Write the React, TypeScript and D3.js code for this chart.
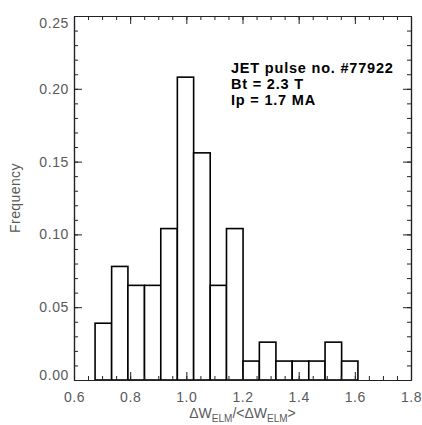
import React, { useRef, useEffect } from 'react';
import * as d3 from 'd3';

// histogram bin edges (17 edges -> 16 bins)
const binEdges = [0.675, 0.734, 0.792, 0.851, 0.909, 0.968, 1.026, 1.085, 1.143,
  1.202, 1.260, 1.319, 1.377, 1.436, 1.494, 1.553, 1.611];
const frequencies = [0.039, 0.078, 0.065, 0.065, 0.104, 0.208, 0.156, 0.065, 0.104,
  0.013, 0.026, 0.013, 0.013, 0.013, 0.026, 0.013];

const xTicks = [0.6, 0.8, 1.0, 1.2, 1.4, 1.6, 1.8];
const yTicks = [0.0, 0.05, 0.10, 0.15, 0.20, 0.25];
const infoLines = ['JET pulse no. #77922', 'Bt = 2.3 T', 'Ip = 1.7 MA'];

const W = 422;
const H = 425;
const margin = { top: 16, right: 11, bottom: 45, left: 74 };

function Histogram() {
  const ref = useRef<SVGSVGElement | null>(null);

  useEffect(() => {
    const svg = d3.select(ref.current);
    svg.selectAll('*').remove();

    const x = d3.scaleLinear().domain([0.6, 1.8]).range([margin.left, W - margin.right]);
    const y = d3.scaleLinear().domain([0, 0.25]).range([H - margin.bottom, margin.top]);
    const x0 = margin.left, x1 = W - margin.right;
    const y0 = H - margin.bottom, y1 = margin.top;

    const font = 'Liberation Sans, Arial, Helvetica, sans-serif';
    const grey = '#5a5a5a';

    // bars
    svg.append('g')
      .selectAll('rect')
      .data(frequencies)
      .join('rect')
      .attr('x', (d, i) => x(binEdges[i]))
      .attr('width', (d, i) => x(binEdges[i + 1]) - x(binEdges[i]))
      .attr('y', d => y(d))
      .attr('height', d => y(0) - y(d))
      .attr('fill', 'white')
      .attr('stroke', '#000')
      .attr('stroke-width', 1.6);

    const xMinor = d3.range(0.6, 1.8001, 0.05);
    const yMinor = d3.range(0, 0.2501, 0.01);

    const styleAxis = (g: any) => {
      g.select('.domain').attr('stroke', '#222').attr('stroke-width', 1.2);
      g.selectAll('.tick line').attr('stroke', '#222').attr('stroke-width', 1);
      g.selectAll('text')
        .attr('font-family', font)
        .attr('font-size', 14)
        .attr('fill', grey)
        .attr('letter-spacing', 0.6);
    };

    // bottom axis
    svg.append('g')
      .attr('transform', `translate(0,${y0})`)
      .call(d3.axisBottom(x).tickValues(xMinor).tickSize(-4).tickFormat(() => '').tickSizeOuter(0))
      .call(styleAxis);
    svg.append('g')
      .attr('transform', `translate(0,${y0})`)
      .call(d3.axisBottom(x).tickValues(xTicks).tickSize(-8).tickPadding(12)
        .tickFormat(d3.format('.1f')).tickSizeOuter(0))
      .call(styleAxis);

    // top axis
    svg.append('g')
      .attr('transform', `translate(0,${y1})`)
      .call(d3.axisTop(x).tickValues(xMinor).tickSize(-4).tickFormat(() => '').tickSizeOuter(0))
      .call(styleAxis);
    svg.append('g')
      .attr('transform', `translate(0,${y1})`)
      .call(d3.axisTop(x).tickValues(xTicks).tickSize(-8).tickFormat(() => '').tickSizeOuter(0))
      .call(styleAxis);

    // left axis
    svg.append('g')
      .attr('transform', `translate(${x0},0)`)
      .call(d3.axisLeft(y).tickValues(yMinor).tickSize(-4).tickFormat(() => '').tickSizeOuter(0))
      .call(styleAxis);
    const left = svg.append('g')
      .attr('transform', `translate(${x0},0)`)
      .call(d3.axisLeft(y).tickValues(yTicks).tickSize(-8).tickPadding(5)
        .tickFormat(d3.format('.2f')).tickSizeOuter(0))
      .call(styleAxis);
    // end labels are pulled inside the frame
    left.selectAll('.tick text')
      .attr('dy', (d: any) => (d === 0 ? '-0.05em' : d === 0.25 ? '0.82em' : '0.32em'));

    // right axis
    svg.append('g')
      .attr('transform', `translate(${x1},0)`)
      .call(d3.axisRight(y).tickValues(yMinor).tickSize(-4).tickFormat(() => '').tickSizeOuter(0))
      .call(styleAxis);
    svg.append('g')
      .attr('transform', `translate(${x1},0)`)
      .call(d3.axisRight(y).tickValues(yTicks).tickSize(-8).tickFormat(() => '').tickSizeOuter(0))
      .call(styleAxis);

    // axis titles
    svg.append('text')
      .attr('transform', `translate(20,${(y0 + y1) / 2}) rotate(-90)`)
      .attr('text-anchor', 'middle')
      .attr('font-family', font)
      .attr('font-size', 14)
      .attr('fill', grey)
      .attr('letter-spacing', 0.4)
      .text('Frequency');

    const xt = svg.append('text')
      .attr('x', (x0 + x1) / 2)
      .attr('y', 418)
      .attr('text-anchor', 'middle')
      .attr('font-family', font)
      .attr('font-size', 14)
      .attr('fill', grey);
    xt.append('tspan').text('ΔW');
    xt.append('tspan').attr('font-size', 10).attr('dy', 4).text('ELM');
    xt.append('tspan').attr('dy', -4).text('/<ΔW');
    xt.append('tspan').attr('font-size', 10).attr('dy', 4).text('ELM');
    xt.append('tspan').attr('dy', -4).text('>');

    // annotation
    svg.append('g')
      .selectAll('text')
      .data(infoLines)
      .join('text')
      .attr('x', 231)
      .attr('y', (d, i) => 73 + i * 16)
      .attr('font-family', font)
      .attr('font-size', 14.5)
      .attr('font-weight', 'bold')
      .attr('letter-spacing', 0.8)
      .attr('fill', '#000')
      .text(d => d);
  }, []);

  return <svg ref={ref} width={W} height={H} style={{ position: 'absolute', left: 0, top: 0, background: '#fff' }} />;
}

export default function App() {
  return <Histogram />;
}
